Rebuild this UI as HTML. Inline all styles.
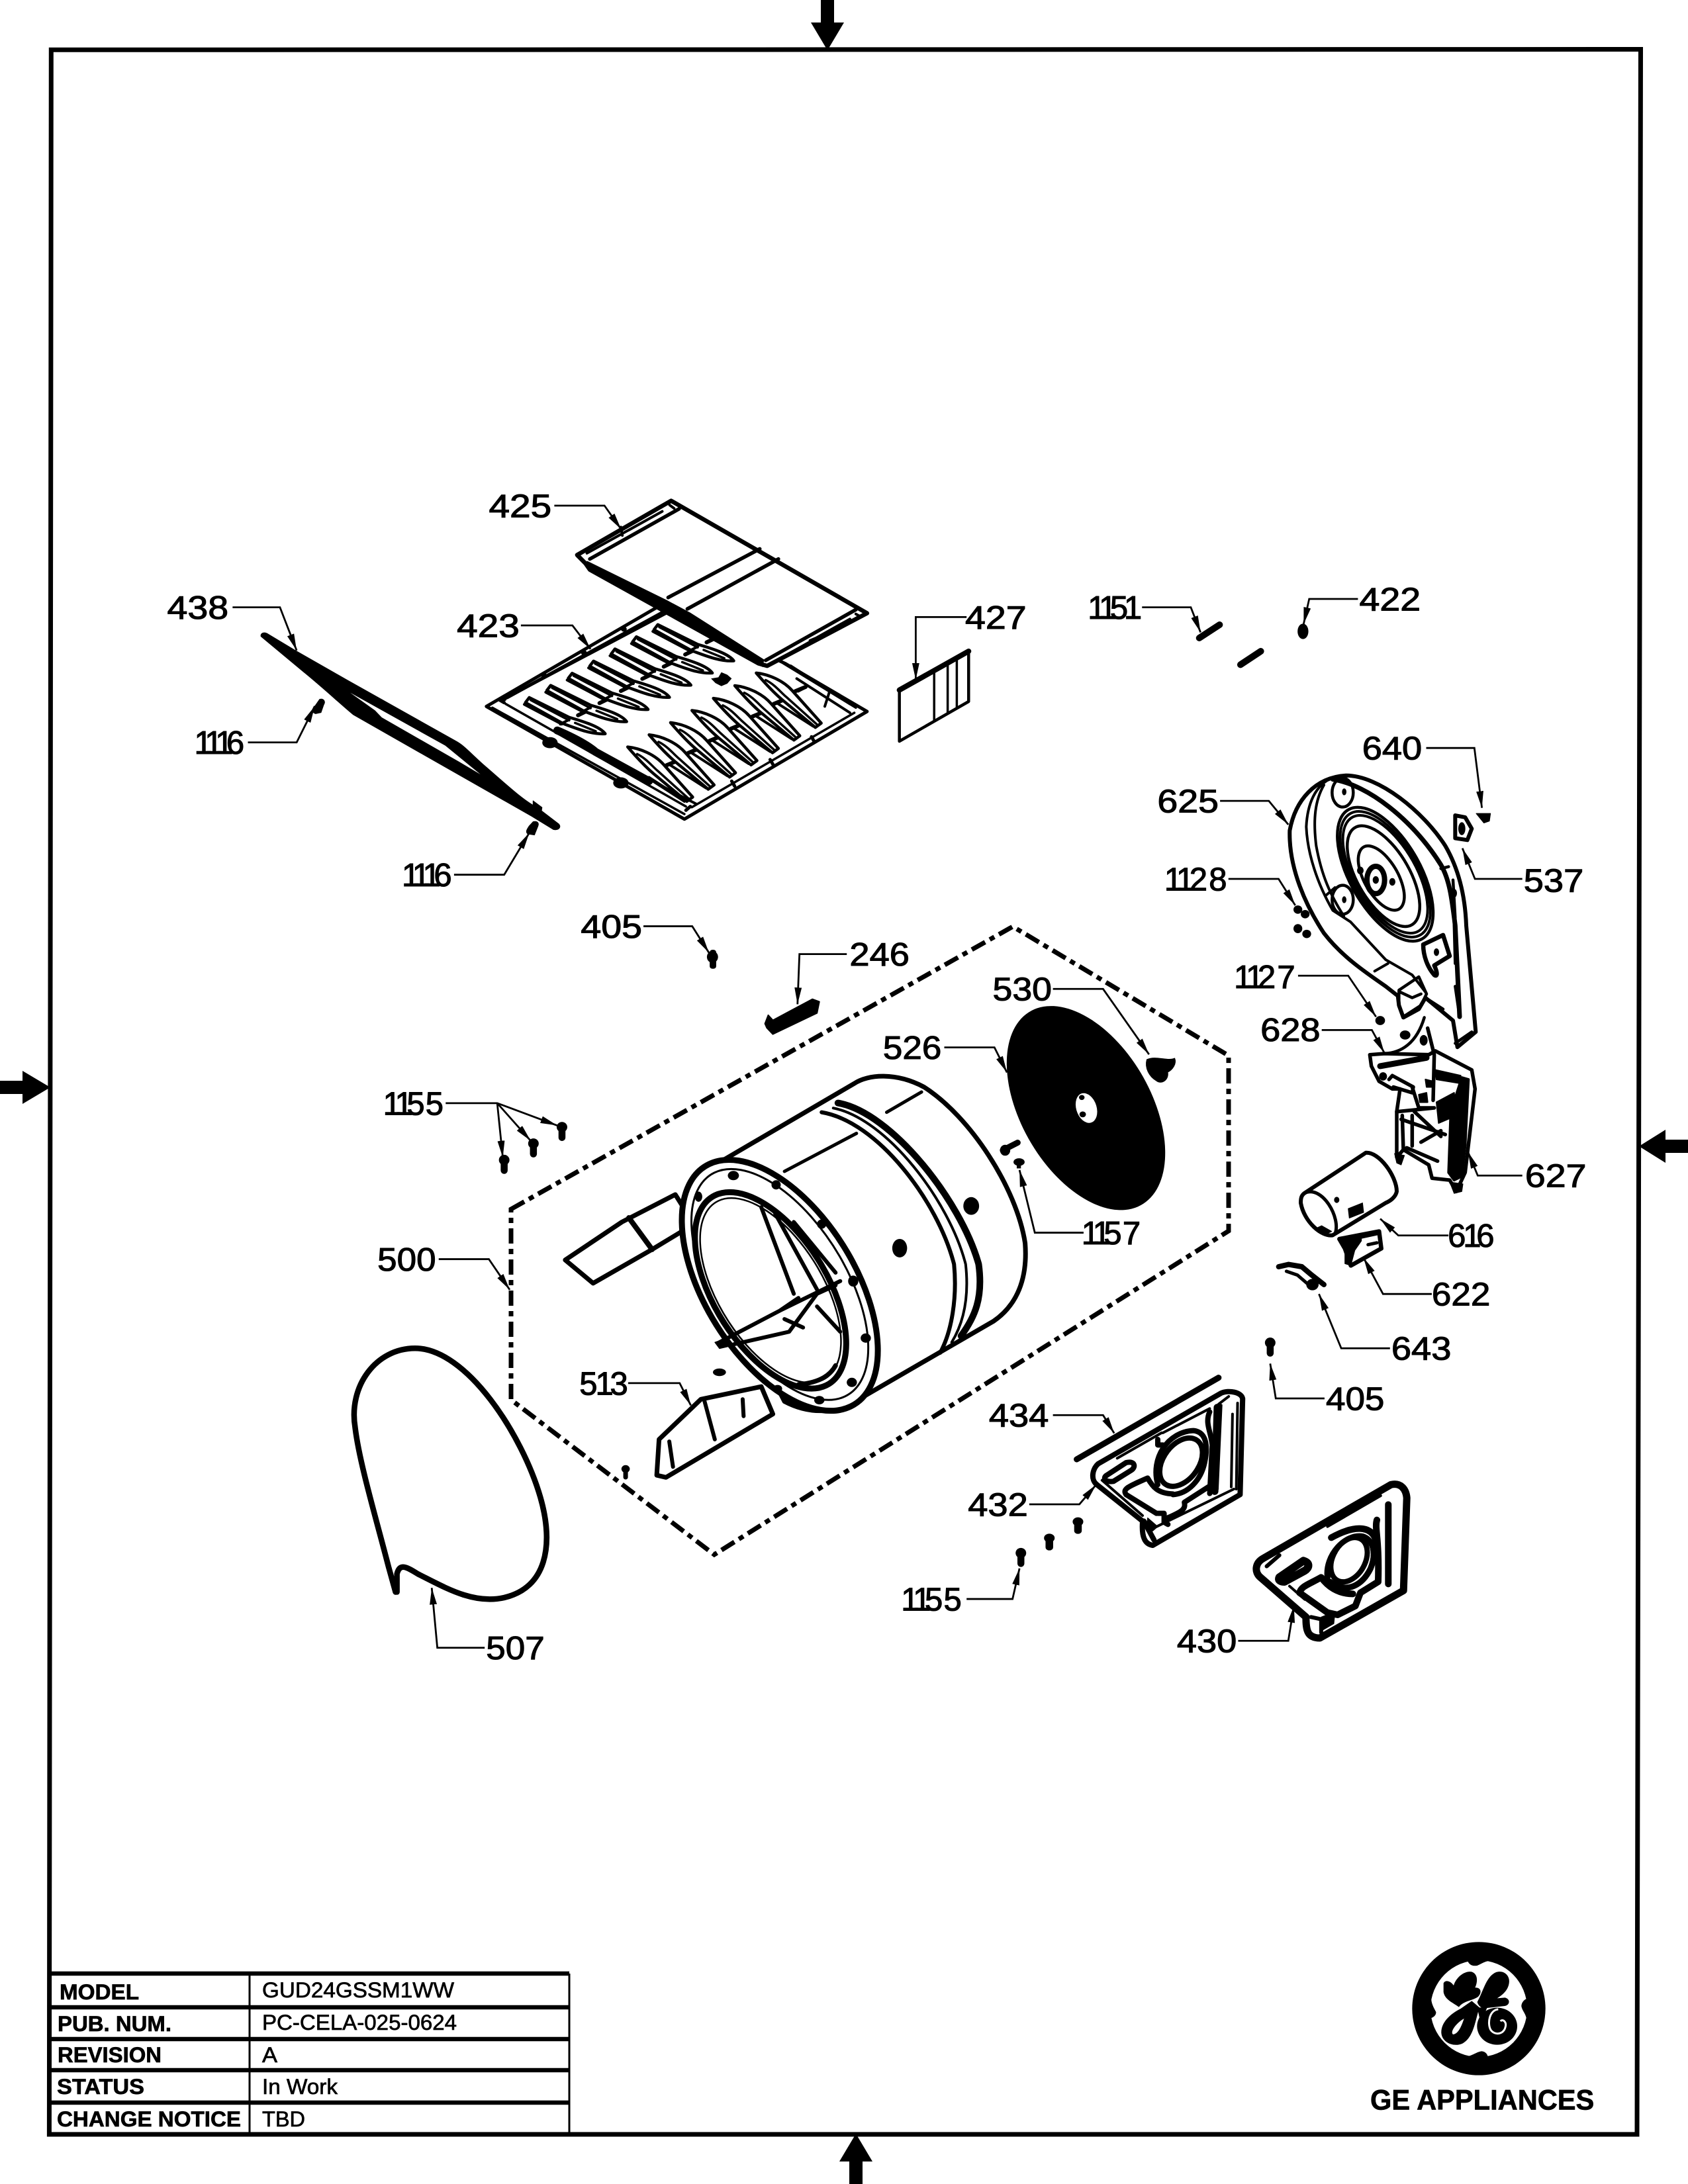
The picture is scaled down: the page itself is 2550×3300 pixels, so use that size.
<!DOCTYPE html>
<html><head><meta charset="utf-8"><style>
html,body{margin:0;padding:0;background:#fff}
svg{display:block}
svg *{vector-effect:non-scaling-stroke}
text{font-family:"Liberation Sans",sans-serif;fill:#000;stroke:#000;stroke-width:.7px}
.l text{font-size:23.3px;stroke-width:1.1px}
.ld{fill:none;stroke:#000;stroke-width:2.8;marker-end:url(#a)}
.k{fill:none;stroke:#000;stroke-linejoin:round;stroke-linecap:round}
.w{fill:#fff;stroke:#000;stroke-linejoin:round;stroke-linecap:round}
.b{fill:#000;stroke:#000;stroke-linejoin:round}
</style></head><body>
<svg xmlns="http://www.w3.org/2000/svg" width="2550" height="3300" viewBox="0 0 2550 3300">
<defs>
<marker id="a" markerUnits="userSpaceOnUse" markerWidth="14" markerHeight="8" refX="12" refY="4" orient="auto" viewBox="0 0 14 8"><path d="M0,1.4 L12,4 L0,6.6 Z" fill="#000"/></marker>
<g id="s"><ellipse cx="0" cy="-3" rx="3.8" ry="3.7"/><rect x="-2.5" y="-3" width="5" height="10" rx="2.5"/></g>
<g id="up"><path class="k" stroke-width="4" d="M318,952 L445,1030"/><path class="w" stroke-width="4.5" d="M335,925 L470,1003 C520,1020 575,1040 592,1068 C545,1072 490,1045 450,1028 L322,945 Z"/><path class="k" stroke-width="3.5" d="M340,935 L470,1015 M490,1025 L560,1058"/><path class="k" stroke-width="6" d="M500,995 L535,975"/><path class="k" stroke-width="4" d="M440,1030 L470,1012"/></g>
<g id="lo"><path class="k" stroke-width="4" d="M740,1240 L860,1330"/><path class="w" stroke-width="4.5" d="M668,1120 C710,1125 760,1150 790,1190 L888,1318 L868,1335 L755,1225 C720,1190 690,1150 668,1120 Z"/><path class="k" stroke-width="3.5" d="M700,1148 C730,1165 750,1195 770,1215 L875,1325"/><path class="k" stroke-width="6" d="M800,1192 L835,1175"/></g>
</defs>

<!-- frame -->
<path d="M77.3,75.3 L2478.5,74.5 L2473,3225 L74.4,3225 Z" fill="none" stroke="#000" stroke-width="7"/>
<path d="M1240,0 H1260 V34 H1275 L1250,76 L1225,34 H1240 Z"/>
<path d="M0,1633 H34 V1618 L76,1643 L34,1668 V1653 H0 Z"/>
<path d="M2550,1722 H2516 V1707 L2476,1732 L2516,1757 V1742 H2550 Z"/>
<path d="M1283,3300 V3266 H1268 L1293,3224 L1318,3266 H1303 V3300 Z"/>

<!-- title table -->
<g fill="none" stroke="#000">
<path stroke-width="6.5" d="M74,2982 H860 M74,3033 H860 M74,3081 H860 M74,3128 H860 M74,3177 H860 M74,3225 H860"/>
<path stroke-width="3" d="M377,2982 V3225 M860,2982 V3225"/>
</g>
<g font-size="32" font-weight="bold">
<text x="90" y="3021" textLength="120" lengthAdjust="spacingAndGlyphs" font-weight="bold">MODEL</text>
<text x="87" y="3069" textLength="172" lengthAdjust="spacingAndGlyphs" font-weight="bold">PUB. NUM.</text>
<text x="87" y="3116" textLength="157" lengthAdjust="spacingAndGlyphs" font-weight="bold">REVISION</text>
<text x="86" y="3164" textLength="132" lengthAdjust="spacingAndGlyphs" font-weight="bold">STATUS</text>
<text x="86" y="3213" textLength="278" lengthAdjust="spacingAndGlyphs" font-weight="bold">CHANGE NOTICE</text>
</g>
<g font-size="32">
<text x="396" y="3018" textLength="290" lengthAdjust="spacingAndGlyphs">GUD24GSSM1WW</text>
<text x="396" y="3067" textLength="294" lengthAdjust="spacingAndGlyphs">PC-CELA-025-0624</text>
<text x="396" y="3116" textLength="23" lengthAdjust="spacingAndGlyphs">A</text>
<text x="396" y="3164" textLength="114" lengthAdjust="spacingAndGlyphs">In Work</text>
<text x="396" y="3213" textLength="65" lengthAdjust="spacingAndGlyphs">TBD</text>
</g>

<!-- GE logo -->
<g transform="translate(2050,2900) scale(.33333)">
<circle cx="552" cy="405" r="302"/>
<circle cx="552" cy="405" r="219" fill="#fff"/>
<path d="M495,165 C500,200 515,215 545,210 C570,200 590,180 640,190 L700,200 L640,140 Z"/>
<path d="M800,360 C770,350 745,370 745,395 C750,420 770,430 770,470 L780,560 L840,420 Z"/>
<path d="M305,450 C335,455 360,440 358,420 C345,395 335,380 335,340 L325,260 L270,390 Z"/>
<path d="M592,655 C600,625 590,600 565,598 C540,600 520,625 470,625 L400,610 L470,680 Z"/>
<path d="M392,290 C400,272 425,280 438,300 C450,260 490,232 520,238 C552,250 545,290 535,310 C560,308 568,330 550,350 C530,368 480,370 462,398 C435,378 398,365 392,330 Z"/>
<path d="M470,405 C420,430 380,470 382,515 C385,560 440,582 480,562 C530,532 535,460 555,400 L520,370 Z"/>
<path fill="#fff" d="M485,450 C475,480 460,520 435,522 C420,510 450,470 485,450 Z"/>
<path d="M545,375 C575,320 585,260 630,240 C670,228 697,260 688,295 C680,330 650,348 635,358 L670,355 C695,360 695,388 670,393 L590,402 C570,410 550,395 545,375 Z"/>
<ellipse cx="635" cy="485" rx="91" ry="84"/>
<path d="M545,400 L590,400 L560,470 Z"/>
<path fill="none" stroke="#fff" stroke-width="3" d="M640,408 C600,412 590,470 605,500 C625,530 665,520 672,490 C680,465 660,450 650,462"/>
<text x="60" y="862" font-size="129" font-weight="bold" textLength="1015" lengthAdjust="spacingAndGlyphs">GE APPLIANCES</text>
</g>

<!-- dashed hexagon -->
<path d="M772,1827 L1530,1400 L1856,1595 L1856,1860 L1079,2349 L772,2115 Z" fill="none" stroke="#000" stroke-width="7" stroke-dasharray="23 8 8 8"/>

<!-- 423 + 425 -->
<g transform="translate(650,700) scale(.44643,.38270)">
<path class="w" stroke-width="5" d="M190,960 L780,560 L1200,790 L1478,980 L860,1405 Z"/>
<path class="k" stroke-width="3.5" d="M245,935 L820,580 M210,965 L860,1385 M885,1358 L1435,985 M1195,790 L1440,965 M255,950 L865,1355"/>
<path class="k" stroke-width="5" d="M235,935 L250,945 M260,925 L815,570 M865,1370 L880,1355 M1290,1080 L1300,1100 M1150,1170 L1160,1190 M1020,1255 L1030,1275"/>
<path class="k" stroke-width="12" d="M430,1055 C480,1080 530,1110 560,1140 L740,1255"/>
<ellipse cx="405" cy="1103" rx="26" ry="22"/><ellipse cx="645" cy="1262" rx="26" ry="22"/>
<circle cx="385" cy="838" r="10"/><circle cx="520" cy="748" r="10"/><circle cx="655" cy="655" r="10"/><circle cx="250" cy="930" r="9"/>
<path class="k" stroke-width="4" d="M1240,850 L1420,985 M1245,900 L1270,885 M1335,960 L1350,905"/>
<use href="#up"/><use href="#up" transform="translate(72.5,-48)"/><use href="#up" transform="translate(145,-96)"/><use href="#up" transform="translate(217.5,-144)"/><use href="#up" transform="translate(290,-192)"/><use href="#up" transform="translate(362.5,-240)"/><use href="#up" transform="translate(435,-288)"/>
<use href="#lo"/><use href="#lo" transform="translate(72.5,-48)"/><use href="#lo" transform="translate(145,-96)"/><use href="#lo" transform="translate(217.5,-144)"/><use href="#lo" transform="translate(290,-192)"/><use href="#lo" transform="translate(362.5,-242)"/><use href="#lo" transform="translate(435,-292)"/>
<path d="M950,850 L975,845 L985,825 L1005,835 L1020,850 L1005,870 L985,880 L965,868 Z"/>
<path class="k" stroke-width="4" d="M740,1245 L860,1335 M760,1260 L900,1345 M1220,800 L1420,950"/>
<!-- 425 -->
<path class="w" stroke-width="6.5" d="M497,362 L815,148 L1478,592 L1140,800 L1110,790 L540,420 L525,395 Z"/>
<path d="M530,385 L800,540 L880,590 L1130,775 L1125,805 L1105,790 L840,610 L660,490 L545,425 L525,400 Z"/>
<path class="k" stroke-width="5.5" d="M540,378 L842,180 M805,530 L1115,338 M870,575 L1178,378 M1135,778 L1440,578"/>
<path class="k" stroke-width="4" d="M530,355 L785,190 M670,265 L785,190 M1170,780 L1285,705 M1305,690 L1420,615 M645,252 L650,285 M1285,700 L1305,690 M810,165 L825,178 M1440,595 L1455,605"/>
</g>

<!-- 438 -->
<g transform="translate(240,880) scale(.40816,.33333)">
<path class="b" stroke-width="1" d="M378,245 C375,230 390,222 405,235 L510,312 L700,445 L1100,720 C1130,740 1150,770 1200,825 C1290,920 1350,990 1400,1020 L1480,1095 C1490,1110 1480,1125 1460,1120 L1380,1060 L720,600 C680,560 610,480 540,410 Z"/>
<path fill="#fff" d="M708,500 L1060,740 L1090,770 L1190,870 L1110,812 L825,612 L800,580 Z"/>
<path class="b" d="M1385,990 L1418,1020 L1415,1045 L1385,1020 Z"/>
<path class="b" stroke-width="1" d="M595,530 C610,525 618,540 610,555 L600,590 L580,595 C565,590 568,570 578,560 Z"/>
<path class="b" stroke-width="1" d="M1385,1085 C1400,1080 1408,1090 1403,1105 L1390,1145 L1365,1140 C1355,1130 1365,1115 1370,1105 Z"/>
</g>

<!-- 427 + rods -->
<g transform="translate(1300,860) scale(.51020,.33333)">
<path class="k" stroke-width="4.5" d="M115,550 V780 L320,600 V372"/>
<path class="k" stroke-width="8" d="M115,548 L320,372"/>
<path class="k" stroke-width="3.5" d="M218,470 V685 M258,435 V650 M285,410 V625"/>
<path class="k" stroke-width="10" d="M1003,312 L1063,252 M1125,433 L1185,372"/>
<ellipse cx="1310" cy="282" rx="16" ry="35"/>
</g>

<!-- blower housing / right cluster -->
<g transform="translate(1800,1100) scale(.33333,.57405)">
<path class="w" stroke-width="6" d="M445,270 C470,190 560,130 700,125 C850,125 1050,220 1150,310 C1210,370 1240,440 1245,520 L1288,800 L1205,840 L1185,770 L1060,710 L1030,740 L960,762 L940,730 L935,705 L880,680 C780,640 680,600 600,540 C520,470 440,370 445,270 Z"/>
<path class="k" stroke-width="4" d="M640,130 C560,150 525,200 520,260 C525,330 570,410 640,480 L720,510 L880,610 L1000,650 L1060,695 M600,150 C560,190 550,240 565,310 C590,390 630,440 690,495 M610,440 L650,420 M830,640 L890,620"/>
<path class="k" stroke-width="7" d="M640,135 C800,150 1000,240 1130,360 C1170,400 1180,450 1195,520 L1215,760"/>
<g fill="none" stroke="#000" stroke-linejoin="round">
<ellipse cx="878" cy="385" rx="250" ry="125" transform="rotate(35 878 385)" stroke-width="4.5"/>
<ellipse cx="878" cy="385" rx="236" ry="116" transform="rotate(35 878 385)" stroke-width="4"/>
<ellipse cx="878" cy="385" rx="222" ry="108" transform="rotate(35 878 385)" stroke-width="4"/>
<ellipse cx="870" cy="390" rx="190" ry="92" transform="rotate(35 870 390)" stroke-width="4.5"/>
<ellipse cx="860" cy="395" rx="120" ry="60" transform="rotate(35 860 395)" stroke-width="4.5"/>
</g>
<ellipse cx="835" cy="400" rx="40" ry="36" fill="none" stroke="#000" stroke-width="8"/><ellipse cx="835" cy="400" rx="14" ry="10" fill="#000"/>
<ellipse cx="765" cy="375" rx="15" ry="10"/><ellipse cx="910" cy="405" rx="14" ry="10"/>
<g fill="none" stroke="#000" stroke-width="4.5"><ellipse cx="685" cy="170" rx="48" ry="38"/><ellipse cx="685" cy="452" rx="48" ry="38"/></g>
<ellipse cx="692" cy="168" rx="10" ry="9"/><ellipse cx="692" cy="452" rx="10" ry="9"/>
<path class="k" stroke-width="6.5" d="M1050,570 L1140,545 L1170,600 L1100,625 C1120,650 1110,655 1100,650 C1070,630 1050,600 1050,570 Z"/>
<ellipse cx="1110" cy="590" rx="12" ry="10"/>
<path class="k" stroke-width="4.5" d="M1130,370 L1165,365 M1185,400 L1195,500 M1190,510 L1195,620 M1195,680 L1215,760 M1060,710 L1140,740 M1195,830 L1270,800"/>
<circle cx="1192" cy="435" r="11"/>
<path class="k" stroke-width="4.5" d="M940,690 L1030,655 L1065,700 L1040,730 L960,760 L940,730 Z M945,695 L1000,710 L1040,700"/>
<ellipse cx="482" cy="478" rx="20" ry="11"/><ellipse cx="515" cy="490" rx="20" ry="11"/><ellipse cx="482" cy="528" rx="20" ry="12"/><ellipse cx="522" cy="542" rx="20" ry="11"/>
<ellipse cx="855" cy="770" rx="22" ry="12"/><ellipse cx="968" cy="808" rx="24" ry="12"/><ellipse cx="1052" cy="822" rx="18" ry="14"/>
<path class="b" d="M1290,225 L1355,225 L1350,245 L1325,250 Z"/>
<path class="w" stroke-width="6" d="M1195,230 L1240,235 L1270,265 L1250,295 L1195,290 Z"/>
<ellipse cx="1225" cy="265" rx="16" ry="17"/>
<!-- 628 / 627 -->
<path class="k" stroke-width="4.5" d="M875,857 C950,855 1020,830 1055,762"/>
<path class="w" stroke-width="5.5" d="M808,860 L875,857 L1075,860 L1105,850 L1270,900 L1285,950 L1240,1170 L1200,1220 L1170,1190 L1090,1185 L1075,1150 L960,1110 L930,1130 L930,1010 L945,950 L910,950 L850,930 L815,890 Z"/>
<path class="k" stroke-width="9" d="M855,890 L1065,868"/>
<ellipse cx="868" cy="917" rx="18" ry="11"/>
<path class="k" stroke-width="5.5" d="M895,925 L910,915 L1005,945 L1000,960 L915,945 M1070,790 L1100,860 L1095,980 M1000,945 L1030,1000 L1100,1000 M930,1010 L1100,1000 M950,1030 L1150,1070 M1040,1090 L1130,1060 M975,1105 L1115,1140 M955,1020 L960,1110 M1000,1020 L1000,1100 M1010,1010 L1130,1075"/>
<path class="b" stroke-width="2" d="M1060,925 L1095,930 L1090,945 L1065,945 Z M1030,965 L1065,960 L1070,985 L1035,985 Z M1110,985 L1190,960 L1200,1020 L1120,1040 Z M1105,900 L1220,915 L1215,935 L1110,925 Z"/>
<path class="b" stroke-width="4" d="M1175,1010 L1225,920 L1255,925 L1240,1100 L1225,1180 L1190,1190 L1165,1170 Z"/>
<path class="b" d="M920,1120 L965,1125 L950,1150 L930,1145 Z M1170,1195 L1230,1200 L1225,1220 L1190,1225 Z"/>
<!-- 616 -->
<path class="w" stroke-width="6" d="M510,1225 L790,1118 C850,1115 930,1180 930,1220 C925,1235 900,1245 880,1250 L640,1335 C590,1340 510,1300 495,1250 C495,1235 500,1230 510,1225 Z"/>
<path class="k" stroke-width="5" d="M510,1225 C590,1200 680,1290 650,1332"/>
<ellipse cx="658" cy="1242" rx="12" ry="8"/>
<path class="b" d="M710,1265 L775,1250 L780,1275 L715,1290 Z"/>
<path class="b" d="M560,1318 L590,1310 L635,1325 L600,1335 Z"/>
<!-- 622 -->
<path class="w" stroke-width="6.5" d="M670,1345 L850,1325 L860,1370 L722,1415 L695,1370 Z"/>
<path class="b" d="M670,1345 L770,1335 L770,1350 L740,1375 L722,1415 L695,1410 L695,1370 Z"/>
<path class="k" stroke-width="5" d="M800,1360 L840,1355 M770,1340 L850,1330"/>
<!-- 643 -->
<path class="k" stroke-width="8" d="M395,1418 L440,1412 L500,1418 L545,1440 L600,1465"/>
<path class="k" stroke-width="5" d="M430,1430 L480,1440 L530,1465"/>
<ellipse cx="548" cy="1465" rx="28" ry="15"/>
</g>

<!-- drum group -->
<g transform="translate(750,1400) scale(.70175,.63776)">
<path class="w" stroke-width="7" d="M148,790 L270,700 L385,635 L425,705 L335,765 L208,845 Z"/>
<path class="k" stroke-width="8" d="M285,690 L335,765"/>
<path class="w" stroke-width="7" d="M440,1120 L570,1090 L595,1155 L365,1305 L345,1300 L350,1215 Z"/>
<path class="k" stroke-width="6" d="M448,1125 L470,1215 M530,1120 L532,1160 M372,1220 L380,1280"/>
<path class="w" stroke-width="7" d="M470,565 L770,372 C800,350 860,345 920,380 C1020,450 1120,620 1138,750 C1145,850 1110,905 1070,935 L780,1120 C740,1150 680,1160 620,1125 L470,800 Z"/>
<path class="k" stroke-width="5" d="M620,580 L775,490 M840,440 L915,392"/>
<path class="k" stroke-width="10" d="M735,418 C850,440 1000,650 1038,800 C1048,880 1030,925 1000,970"/>
<path class="k" stroke-width="6" d="M700,440 C820,462 950,650 985,800 C992,880 980,960 955,1010"/>
<path class="k" stroke-width="4" d="M725,430 C840,455 975,650 1010,800 C1018,880 1005,940 980,985"/>
<ellipse cx="868" cy="762" rx="16" ry="22"/><ellipse cx="1022" cy="662" rx="17" ry="21"/>
<ellipse cx="610" cy="850" rx="325" ry="165" transform="rotate(62 610 850)" fill="#fff" stroke="#000" stroke-width="9"/>
<ellipse cx="610" cy="848" rx="300" ry="145" transform="rotate(62 610 848)" fill="none" stroke="#000" stroke-width="3"/>
<ellipse cx="590" cy="862" rx="255" ry="125" transform="rotate(62 590 862)" fill="#fff" stroke="#000" stroke-width="9"/>
<ellipse cx="590" cy="862" rx="240" ry="115" transform="rotate(62 590 862)" fill="none" stroke="#000" stroke-width="2.5"/>
<path class="k" stroke-width="6" d="M570,665 L640,870 M600,680 L690,860 M640,700 L730,820 M480,985 L610,910 L740,840 M510,990 L630,960 L690,870 L730,850 M610,910 L650,880 M690,900 L740,960 M620,930 L660,950"/>
<path class="b" d="M470,985 L495,975 L500,995 L480,1000 Z"/>
<path class="k" stroke-width="7" d="M730,1040 C720,1060 700,1080 650,1085"/>
<g><ellipse cx="510" cy="590" rx="12" ry="11"/><ellipse cx="602" cy="612" rx="10" ry="11"/><ellipse cx="700" cy="705" rx="10" ry="11"/><ellipse cx="768" cy="840" rx="11" ry="13"/><ellipse cx="795" cy="975" rx="11" ry="11"/><ellipse cx="765" cy="1080" rx="11" ry="11"/><ellipse cx="695" cy="1122" rx="11" ry="10"/><ellipse cx="605" cy="1095" rx="10" ry="9"/><ellipse cx="435" cy="640" rx="8" ry="12"/></g>
<ellipse cx="480" cy="1056" rx="14" ry="9"/>
<ellipse cx="1269" cy="430" rx="259" ry="143" transform="rotate(64.5 1269 430)"/>
<ellipse cx="1270" cy="430" rx="22" ry="36" transform="rotate(-15 1270 430)" fill="#fff"/>
<circle cx="1260" cy="405" r="6"/><circle cx="1262" cy="445" r="7"/>
<path class="b" d="M1400,315 C1420,305 1445,320 1460,312 C1465,325 1455,340 1445,345 C1448,365 1430,375 1420,365 C1405,355 1395,335 1400,315 Z"/>
<path class="k" stroke-width="9" d="M1090,530 L1122,512"/><ellipse cx="1095" cy="530" rx="11" ry="13"/>
<ellipse cx="1125" cy="558" rx="12" ry="9"/><rect x="1120" y="558" width="9" height="15"/>
<path class="b" stroke-width="2" d="M578,230 L585,210 L595,222 L680,172 L695,178 L690,205 L595,255 L582,240 Z"/>
<ellipse cx="278" cy="1285" rx="9" ry="9"/><rect x="273" y="1285" width="10" height="25" rx="5"/>
<ellipse cx="465" cy="72" rx="12" ry="14"/><rect x="459" y="55" width="14" height="45" rx="6"/>
</g>

<!-- rear plates -->
<g transform="translate(1550,2050) scale(.38270,.33333)">
<path class="k" stroke-width="9" d="M200,465 L760,95"/>
<path class="w" stroke-width="8" d="M285,485 L770,165 C800,150 850,160 855,190 L845,625 L500,855 C470,850 455,820 460,745 L280,580 C255,560 260,510 285,485 Z"/>
<path class="k" stroke-width="4" d="M300,560 L460,720 M360,460 L535,345 M540,345 L725,235 M760,215 L800,180 M770,220 L755,600 M815,260 L810,590 M835,210 L830,600 M480,790 L820,600"/>
<path class="k" stroke-width="8" d="M725,250 C705,300 730,340 735,400 L725,620 M625,660 L720,590 M625,660 C630,690 620,700 560,730 M515,710 L395,625 C380,600 400,590 480,550 C500,590 520,620 580,622"/>
<path class="k" stroke-width="11" d="M755,230 L745,610"/>
<path class="w" stroke-width="8" d="M315,540 L395,480 C430,470 435,500 415,515 L345,565 C310,570 305,550 315,540 Z"/>
<ellipse cx="612" cy="478" rx="72" ry="118" transform="rotate(28 612 478)" fill="#fff" stroke="#000" stroke-width="8"/>
<path class="k" stroke-width="8" d="M520,580 C490,460 560,340 660,335 C710,340 720,400 705,480 C690,560 640,620 580,625"/>
<path class="k" stroke-width="8" d="M520,375 L520,400 L540,400 M520,710 L545,710 L545,750 L560,760 M465,745 L505,830"/>
<path class="b" d="M480,730 L520,770 L500,790 L475,780 Z"/>
<ellipse cx="205" cy="748" rx="21" ry="20"/><rect x="190" y="745" width="30" height="58" rx="14"/>
<ellipse cx="92" cy="822" rx="21" ry="20"/><rect x="77" y="820" width="30" height="58" rx="14"/>
<path class="w" stroke-width="11" d="M935,915 L1440,580 C1480,570 1500,600 1503,640 L1490,1060 L1160,1275 C1110,1275 1105,1240 1105,1180 L925,1000 C900,975 905,935 935,915 Z"/>
<path class="k" stroke-width="10" d="M1430,670 L1430,1030 M1385,740 C1375,780 1395,820 1390,1020 L1320,1070 L1300,1130 L1230,1170 L1190,1160 L1080,1070 C1085,1040 1120,1030 1165,1000 C1190,1040 1230,1075 1290,1075 M1205,820 C1300,760 1380,760 1385,860"/>
<path class="k" stroke-width="4" d="M1040,1040 L1100,1100 M1190,770 L1400,630"/>
<path class="k" stroke-width="9" d="M1190,1000 C1180,900 1260,800 1330,815 C1370,830 1385,890 1360,960 C1330,1030 1270,1080 1200,1020"/>
<path class="k" stroke-width="12" d="M1000,1000 L1095,925 C1125,935 1115,960 1100,970 L1020,1020 C1000,1020 995,1010 1000,1000 Z"/>
<path class="k" stroke-width="6" d="M1125,1180 L1165,1190 L1165,1250 M950,950 L1000,900"/>
<path class="b" d="M1165,1180 L1220,1155 L1215,1210 L1170,1240 Z"/>
<ellipse cx="1275" cy="920" rx="65" ry="105" transform="rotate(22 1275 920)" fill="#fff" stroke="#000" stroke-width="8"/>
</g>

<!-- overview coordinates -->
<g transform="scale(2.104,2.1046)">
<path d="M284,1143 L279,1125 C270,1090 258,1050 255,1025 C250,995 270,968 298,968 C335,968 375,1030 388,1075 C398,1110 392,1140 362,1147 C340,1152 320,1140 300,1130 C292,1125 287,1122 285,1130 L285,1143" fill="none" stroke="#000" stroke-width="8.5" stroke-linecap="round" stroke-linejoin="round"/>
<use href="#s" x="403.5" y="812.2"/><use href="#s" x="383" y="824"/><use href="#s" x="362" y="835.8"/>
<use href="#s" x="733" y="1118"/>
<use href="#s" x="912" y="967"/>

<path class="ld" d="M398,363 H434 L446,380"/>
<path class="ld" d="M374,449 H411 L424,466"/>
<path class="ld" d="M167,436 H201 L213,467"/>
<path class="ld" d="M178,533 H213 L226,507"/>
<path class="ld" d="M326,628 H362 L380,598"/>
<path class="ld" d="M694,443 H657.5 V488"/>
<path class="ld" d="M820,436 H855 L862,454"/>
<path class="ld" d="M975,430 H940 L936,448"/>
<path class="ld" d="M1024,537 H1058.6 L1064,580"/>
<path class="ld" d="M876,575 H911 L925,592"/>
<path class="ld" d="M882,631 H918 L930,650"/>
<path class="ld" d="M1093,631 H1059 L1050,609"/>
<path class="ld" d="M932,700.5 H968 L988,730"/>
<path class="ld" d="M949,739.5 H985 L994,756"/>
<path class="ld" d="M1093,844 H1061 L1054,827"/>
<path class="ld" d="M1040,887 H1004 L991,875"/>
<path class="ld" d="M1028,929 H993 L979,903"/>
<path class="ld" d="M998,968 H963 L947,929"/>
<path class="ld" d="M951,1004 H916 L912,979"/>
<path class="ld" d="M756,1016 H792 L800,1029"/>
<path class="ld" d="M739,1080 H775 L787,1066"/>
<path class="ld" d="M889,1178 H925 L929,1153"/>
<path class="ld" d="M694,1148 H727 L732,1126"/>
<path class="ld" d="M320,792 H357 L400,808"/>
<path class="ld" d="M357,792 L381,819"/>
<path class="ld" d="M357,792 L361,831"/>
<path class="ld" d="M315,904 H351 L366,926"/>
<path class="ld" d="M608,685 H574 L572.6,721"/>
<path class="ld" d="M756,710 H792 L825,757"/>
<path class="ld" d="M678,752 H714 L723,770"/>
<path class="ld" d="M778,885 H743 L732,840"/>
<path class="ld" d="M451,993 H488 L496,1009"/>
<path class="ld" d="M348,1183 H314 L310,1140"/>
<path class="ld" d="M462,665 H497 L509,684"/>

<g class="l">
<text x="351" y="371.3" textLength="45" lengthAdjust="spacingAndGlyphs">425</text>
<text x="328" y="457.3" textLength="45" lengthAdjust="spacingAndGlyphs">423</text>
<text x="120" y="444.3" textLength="44" lengthAdjust="spacingAndGlyphs">438</text>
<text x="693" y="451.3" textLength="44" lengthAdjust="spacingAndGlyphs">427</text>
<text x="781 789 797 807" y="444.3">1151</text>
<text x="976" y="438.3" textLength="44" lengthAdjust="spacingAndGlyphs">422</text>
<text x="978" y="545.3" textLength="43" lengthAdjust="spacingAndGlyphs">640</text>
<text x="831" y="583.3" textLength="44" lengthAdjust="spacingAndGlyphs">625</text>
<text x="1094" y="640.3" textLength="43" lengthAdjust="spacingAndGlyphs">537</text>
<text x="836 844.5 854 868" y="639.3">1128</text>
<text x="886 894.5 903 917" y="709.3">1127</text>
<text x="905" y="747.3" textLength="43" lengthAdjust="spacingAndGlyphs">628</text>
<text x="1095" y="852.3" textLength="44" lengthAdjust="spacingAndGlyphs">627</text>
<text x="417" y="673.3" textLength="44" lengthAdjust="spacingAndGlyphs">405</text>
<text x="610" y="693.3" textLength="43" lengthAdjust="spacingAndGlyphs">246</text>
<text x="712.7" y="718.3" textLength="42.5" lengthAdjust="spacingAndGlyphs">530</text>
<text x="634" y="760.3" textLength="42" lengthAdjust="spacingAndGlyphs">526</text>
<text x="275 283.5 292 305.5" y="800.3">1155</text>
<text x="139.5 147 154.5 162.5" y="541.3">1116</text>
<text x="288.5 296 303.5 311.5" y="636.3">1116</text>
<text x="776.5 784.5 792.5 806" y="893.3">1157</text>
<text x="271" y="912.3" textLength="42" lengthAdjust="spacingAndGlyphs">500</text>
<text x="416 427.5 438" y="1001.3">513</text>
<text x="1039.5 1050.5 1060" y="895.3">616</text>
<text x="1028" y="937.3" textLength="42" lengthAdjust="spacingAndGlyphs">622</text>
<text x="999" y="976.3" textLength="43" lengthAdjust="spacingAndGlyphs">643</text>
<text x="952" y="1012.3" textLength="42" lengthAdjust="spacingAndGlyphs">405</text>
<text x="710" y="1024.3" textLength="43" lengthAdjust="spacingAndGlyphs">434</text>
<text x="695" y="1088.3" textLength="43" lengthAdjust="spacingAndGlyphs">432</text>
<text x="647 655.5 664 677.5" y="1156.3">1155</text>
<text x="845" y="1186.3" textLength="43" lengthAdjust="spacingAndGlyphs">430</text>
<text x="349" y="1191.3" textLength="42" lengthAdjust="spacingAndGlyphs">507</text>
</g>
</g>
</svg>
</body></html>
